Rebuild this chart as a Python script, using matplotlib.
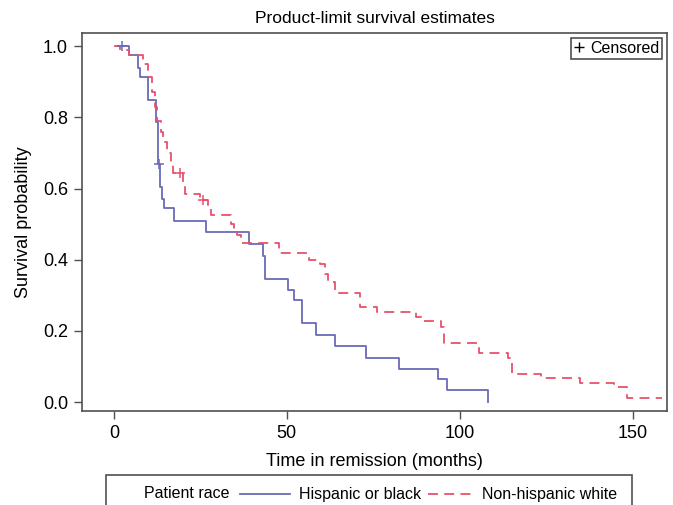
import matplotlib
matplotlib.use('Agg')
import matplotlib.pyplot as plt
from matplotlib.lines import Line2D
from matplotlib.patches import Rectangle
from matplotlib.ticker import FormatStrFormatter

plt.rcParams['font.family'] = ['Liberation Sans', 'DejaVu Sans']

# Kaplan-Meier steps (time in months, survival)
hisp_time = [1.2, 4.5, 7.0, 7.7, 9.9, 12.1, 12.7, 13.4, 13.8, 14.6, 17.5, 26.6,
             39.2, 43.1, 43.8, 50.3, 52.0, 54.4, 58.4, 63.9, 72.8, 82.3, 93.6,
             96.2, 108.1]
hisp_surv = [1.0, 0.974, 0.94, 0.912, 0.849, 0.787, 0.668, 0.605, 0.572, 0.544,
             0.509, 0.478, 0.443, 0.41, 0.345, 0.315, 0.287, 0.223, 0.188,
             0.157, 0.125, 0.093, 0.064, 0.034, 0.0]
hisp_cens_time = [2.5, 13.2]
hisp_cens_surv = [1.0, 0.668]

white_time = [0, 1.8, 4.5, 8.5, 9.8, 11.0, 12.0, 12.5, 13.5, 14.1, 15.3, 16.5,
              17.2, 20.0, 20.5, 24.8, 27.2, 28.0, 34.0, 34.8, 35.6, 36.8, 47.8,
              56.3, 59.7, 61.0, 62.0, 64.0, 71.3, 76.0, 87.3, 89.2, 94.6, 95.5,
              105.7, 114.0, 115.0, 123.6, 134.8, 144.5, 148.3, 158.5]
white_surv = [1.0, 0.99, 0.976, 0.951, 0.914, 0.87, 0.83, 0.79, 0.76, 0.73,
              0.70, 0.675, 0.643, 0.61, 0.586, 0.567, 0.549, 0.525, 0.50, 0.488,
              0.469, 0.446, 0.42, 0.40, 0.389, 0.36, 0.337, 0.307, 0.266, 0.254,
              0.24, 0.228, 0.212, 0.165, 0.137, 0.123, 0.08, 0.067, 0.055,
              0.042, 0.011, 0.011]
white_cens_time = [19.0, 25.8]
white_cens_surv = [0.643, 0.567]

group_labels = ['Hispanic or black', 'Non-hispanic white']
legend_title = 'Patient race'

blue = '#6a6ab8'
red = '#e8506c'
frame = '#505050'

fig = plt.figure(figsize=(6.73, 5.05), dpi=100)
ax = fig.add_axes([82 / 673, 1 - 411 / 505, (667 - 82) / 673, (411 - 33) / 505])

ax.step(hisp_time, hisp_surv, where='post', color=blue, lw=1.3)
ax.step(white_time, white_surv, where='post', color=red, lw=1.3,
        dashes=(5.5, 3.5))
ax.plot(hisp_cens_time, hisp_cens_surv, ls='none', marker='+', ms=7,
        mew=1.1, color=blue)
ax.plot(white_cens_time, white_cens_surv, ls='none', marker='+', ms=7,
        mew=1.1, color=red)

ax.set_xlim(-9.2, 159.9)
ax.set_ylim(-0.025, 1.037)
ax.set_xticks([0, 50, 100, 150])
ax.set_yticks([0, 0.2, 0.4, 0.6, 0.8, 1.0])
ax.yaxis.set_major_formatter(FormatStrFormatter('%.1f'))
ax.tick_params(direction='out', length=6, width=1, color=frame,
               labelsize=13, pad=4)
for s in ax.spines.values():
    s.set_color(frame)
    s.set_linewidth(1.2)

ax.set_xlabel('Time in remission (months)', fontsize=13, labelpad=8)
ax.set_ylabel('Survival probability', fontsize=13, labelpad=8)
ax.set_title('Product-limit survival estimates', fontsize=12.5, pad=7)

cens = Line2D([], [], ls='none', marker='+', ms=7, mew=1.0, color='black')
leg = ax.legend([cens], ['Censored'], loc='upper right', fontsize=11.5,
                handlelength=0.6, handletextpad=0.4, borderpad=0.2,
                borderaxespad=0.3, fancybox=False, framealpha=1)
leg.get_frame().set_edgecolor(frame)
leg.get_frame().set_linewidth(1.2)

# group legend box below the axes
fig.patches.append(Rectangle((106 / 673, -0.02), (632 - 106) / 673,
                             1 - 475 / 505 + 0.02, transform=fig.transFigure,
                             fill=False, ec=frame, lw=1.2))
yc = 1 - 494 / 505
fig.text(144 / 673, yc, legend_title, fontsize=11.5, va='center')
fig.lines.append(Line2D([240 / 673, 290 / 673], [yc, yc], color=blue, lw=1.3,
                        transform=fig.transFigure))
fig.text(299 / 673, yc, group_labels[0], fontsize=11.5, va='center')
fig.lines.append(Line2D([428 / 673, 473 / 673], [yc, yc], color=red, lw=1.3,
                        dashes=(5.5, 3.5), transform=fig.transFigure))
fig.text(482 / 673, yc, group_labels[1], fontsize=11.5, va='center')

fig.savefig('out.png', dpi=100)
